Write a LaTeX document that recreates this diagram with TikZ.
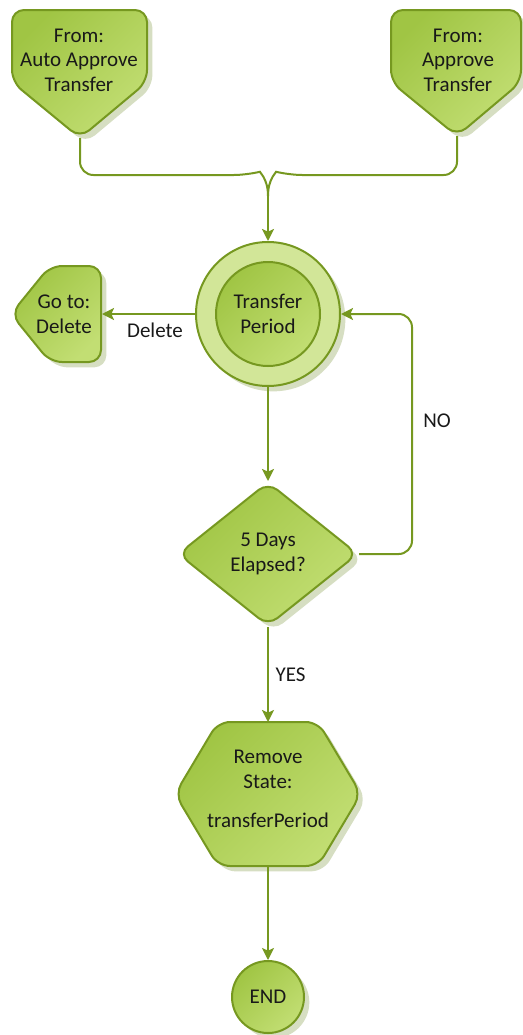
\documentclass[tikz,border=0pt]{standalone}
\usepackage{fontspec}
\setmainfont{Carlito}
\usetikzlibrary{shapes.geometric,arrows.meta,shadows,positioning}
\definecolor{lineg}{RGB}{118,152,32}
\definecolor{fillA}{RGB}{160,197,68}
\definecolor{fillB}{RGB}{194,222,115}
\definecolor{ringg}{RGB}{210,230,152}
\definecolor{shadowg}{RGB}{214,222,194}
\definecolor{textg}{RGB}{25,25,25}
\begin{document}
\begin{tikzpicture}[x=0.75pt, y=-0.75pt,
    font=\fontsize{15.75}{18.4}\selectfont,
    flowbox/.style={draw=lineg, line width=1.5pt, top color=fillA, bottom color=fillB, shading angle=45,
        drop shadow={shadow xshift=4pt, shadow yshift=-4pt, fill=shadowg, opacity=1}},
    flowtext/.style={align=center, text=textg, inner sep=0pt},
    link/.style={draw=lineg, line width=1.5pt},
    linkarrow/.style={link, -{Stealth[length=9pt, width=9pt, inset=2pt]}},
    linklabel/.style={text=textg, inner sep=0pt}]
    \useasboundingbox (0,0) rectangle (522,1035);

    \path[flowbox, rounded corners=9pt] (12,10) -- (147,10) -- (147,82) -- (80,138) -- (12,82) -- cycle;
    \node[flowtext] (auto) at (79,60) {From:\\Auto Approve\\Transfer};
    \coordinate (autotip) at (80,138);

    \path[flowbox, rounded corners=9pt] (391,10) -- (521,10) -- (521,82) -- (457,136) -- (391,82) -- cycle;
    \node[flowtext] (approve) at (458,60) {From:\\Approve\\Transfer};
    \coordinate (apprtip) at (457,136);

    \node[circle, minimum size=108pt, draw=lineg, line width=1.5pt, fill=ringg,
        drop shadow={shadow xshift=4pt, shadow yshift=-4pt, fill=shadowg, opacity=1}] (period) at (268,314) {};
    \node[circle, minimum size=78pt, draw=lineg, line width=1.5pt, top color=fillA, bottom color=fillB,
        shading angle=45, flowtext] (periodin) at (period.center) {Transfer\\Period};

    \path[flowbox, rounded corners=9pt] (11,314) -- (50,266) -- (101,266) -- (101,362) -- (50,362) -- cycle;
    \node[flowtext] (goto) at (64,314) {Go to:\\Delete};
    \coordinate (gotoin) at (102,314);

    \node[diamond, flowbox, rounded corners=9pt, minimum width=135pt, minimum height=108pt, flowtext] (days) at (268,554) {5 Days\\Elapsed?};

    \path[flowbox, rounded corners=9pt] (175,794) -- (218,722) -- (318,722) -- (361,794) -- (318,866) -- (218,866) -- cycle;
    \node[flowtext] (remove) at (268,789) {Remove\\State:\\[11pt]transferPeriod};
    \coordinate (removetop) at (268,722);
    \coordinate (removebot) at (268,866);

    \node[circle, flowbox, minimum size=54pt, flowtext] (end) at (268,997) {END};

    \coordinate (merge) at (268,196);
    \draw[link, rounded corners=10pt] (autotip) |- (247,175) [sharp corners] .. controls (259,172) and (268,178) .. (merge);
    \draw[link, rounded corners=10pt] (apprtip) |- (289,175) [sharp corners] .. controls (277,172) and (268,178) .. (merge);
    \draw[linkarrow] (merge) -- (period.north);

    \draw[linkarrow] (period.west) -- node[linklabel, pos=0.43, below=6pt] (dellabel) {Delete} (gotoin);
    \draw[linkarrow] (period.south) -- (days.north);
    \draw[linkarrow, rounded corners=10pt] (days.east) -| (412,433) |- (period.east);
    \node[linklabel] (nolabel) at (437,421) {NO};
    \draw[linkarrow] (days.south) -- node[linklabel, right=5pt] (yeslabel) {YES} (removetop);
    \draw[linkarrow] (removebot) -- (end.north);
\end{tikzpicture}
\end{document}
